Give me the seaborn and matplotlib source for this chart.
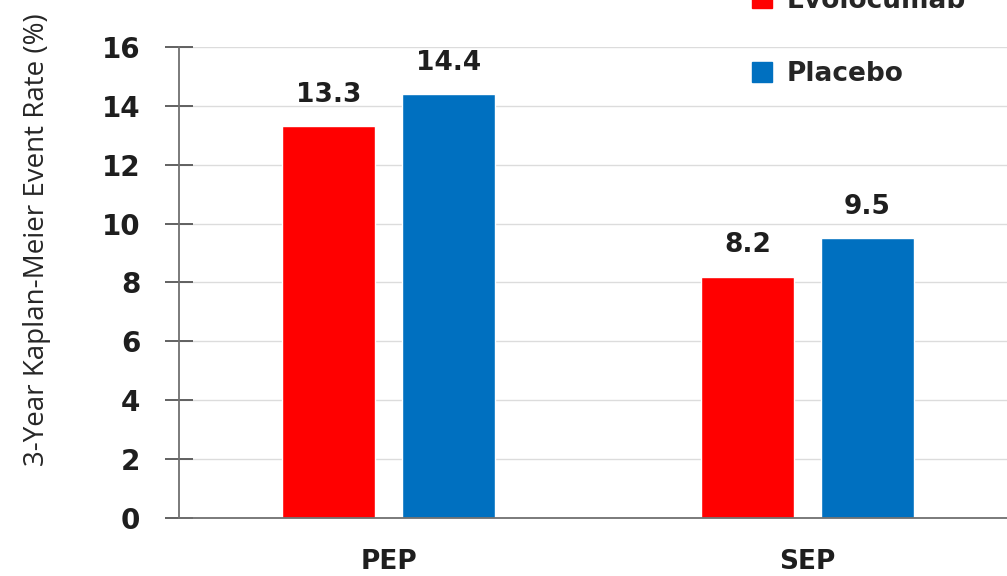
import matplotlib
matplotlib.use("Agg")
import matplotlib.pyplot as plt
import matplotlib.patches as mpatches
import seaborn as sns
import pandas as pd

# Event rates by endpoint and treatment arm
endpoints = ["PEP", "SEP"]
arms = ["Evolocumab", "Placebo"]
evolocumab_rates = [13.3, 8.2]
placebo_rates = [14.4, 9.5]
y_ticks = [0, 2, 4, 6, 8, 10, 12, 14, 16]
arm_colors = {"Evolocumab": "#FF0000", "Placebo": "#0070C0"}

df = pd.DataFrame({
    "endpoint": endpoints * 2,
    "arm": [arms[0]] * len(endpoints) + [arms[1]] * len(endpoints),
    "rate": evolocumab_rates + placebo_rates,
})

sns.set_theme(style="white")
plt.rcParams["font.family"] = ["DejaVu Sans"]

fig = plt.figure(figsize=(10.07, 5.76), dpi=100)
ax = fig.add_axes([0.1778, 0.1007, 0.832, 0.818])

sns.barplot(data=df, x="endpoint", y="rate", hue="arm", order=endpoints,
            hue_order=arms, palette=arm_colors, width=0.57, gap=0.22,
            saturation=1, errorbar=None, legend=False, ax=ax)

ax.set_xlim(-0.5, 1.5)
ax.set_ylim(0, 16)
ax.set_yticks(y_ticks)
ax.set_yticklabels([str(t) for t in y_ticks], fontsize=20, fontweight="bold",
                   color="#1e1e1e")
ax.grid(axis="y", color="#dcdcdc", linewidth=1)
ax.set_axisbelow(True)

for side in ["top", "right"]:
    ax.spines[side].set_visible(False)
for side in ["left", "bottom"]:
    ax.spines[side].set_color("#707070")
    ax.spines[side].set_linewidth(1.3)

ax.tick_params(axis="y", direction="inout", length=20, width=1.3,
               color="#555555", pad=18, left=True)
ax.tick_params(axis="x", length=0, pad=22)
for lbl in ax.get_xticklabels():
    lbl.set_fontsize(19)
    lbl.set_fontweight("bold")
    lbl.set_color("#1e1e1e")

ax.set_xlabel("")
ax.set_ylabel("3-Year Kaplan-Meier Event Rate (%)", fontsize=20,
              family="Open Sans", color="#262626", va="center")
ax.yaxis.set_label_coords(-0.170, 0.59)

for container in ax.containers:
    ax.bar_label(container, fmt="%.1f", padding=13, fontsize=19,
                 fontweight="bold", color="#1e1e1e")

handles = [mpatches.Patch(color=arm_colors[a], label=a) for a in arms]
fig.legend(handles=handles, loc="center left",
           bbox_to_anchor=(0.747, 0.935), frameon=False,
           prop={"weight": "bold", "size": 19}, handlelength=0.75,
           handleheight=0.75, handletextpad=0.55, labelspacing=1.8,
           borderpad=0, borderaxespad=0)

fig.savefig("out.png", dpi=100)
